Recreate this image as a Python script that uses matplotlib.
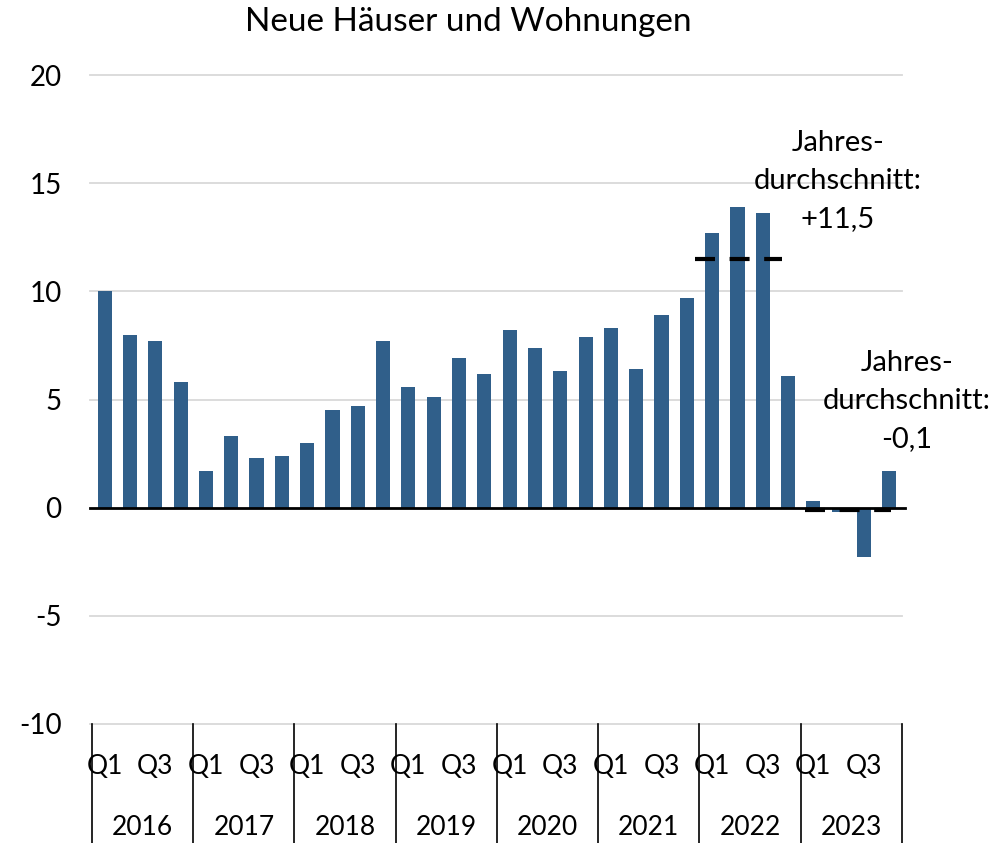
import matplotlib
matplotlib.use("Agg")
import matplotlib.pyplot as plt
import matplotlib.transforms as mtransforms

plt.rcParams['font.family'] = ['Lato', 'DejaVu Sans']

years = ["2016", "2017", "2018", "2019", "2020", "2021", "2022", "2023"]
quarter_labels = ["Q1", "", "Q3", ""]
values = [10.0, 8.0, 7.7, 5.8,
          1.7, 3.3, 2.3, 2.4,
          3.0, 4.5, 4.7, 7.7,
          5.6, 5.1, 6.9, 6.2,
          8.2, 7.4, 6.3, 7.9,
          8.3, 6.4, 8.9, 9.7,
          12.7, 13.9, 13.6, 6.1,
          0.3, -0.2, -2.3, 1.7]
# Jahresdurchschnitte
avg_years = [6, 7]
avg_values = [11.5, -0.1]
avg_labels = ["+11,5", "-0,1"]

barColor = "#305F8A"
fontSize = 19

fig = plt.figure(figsize=(9.95, 8.43), dpi=100)
ax = fig.add_axes([92/995, 1 - 724/843, 810/995, 649/843])

x = list(range(len(values)))
ax.bar(x, values, width=0.56, color=barColor, zorder=2)

ax.set_xlim(-0.5, len(values) - 0.5)
ax.set_ylim(-10, 20)
ax.set_yticks([-10, -5, 0, 5, 10, 15, 20])
ax.set_yticklabels(["-10", "-5", "0", "5", "10", "15", "20"], fontsize=20)
ax.tick_params(axis='y', length=0, pad=22)
ax.set_xticks([])
for s in ax.spines.values():
    s.set_visible(False)

# grid lines
for yv in [-10, -5, 5, 10, 15, 20]:
    ax.plot([-0.58, len(values) - 0.5], [yv, yv], color="#D9D9D9", lw=1.3, zorder=1, clip_on=False)
ax.plot([-0.58, len(values) - 0.38], [0, 0], color="black", lw=2, zorder=3, clip_on=False)

# dashed average lines (span in quarter units relative to year start)
spans = [(-0.68, 2.76), (-0.33, 3.07)]
for yi, avg, (a, b) in zip(avg_years, avg_values, spans):
    ax.plot([yi * 4 + a, yi * 4 + b], [avg, avg], color="black", lw=3, zorder=4,
            linestyle=(0, (4.8, 3.5)), solid_capstyle='butt', dash_capstyle='butt')

# quarter and year labels, separators
trans = mtransforms.blended_transform_factory(ax.transData, ax.transAxes)
for i, v in enumerate(values):
    q = quarter_labels[i % 4]
    if q:
        ax.text(i, -0.065, q, transform=trans, ha='center', va='center', fontsize=fontSize)
for k, yr in enumerate(years):
    ax.text(k * 4 + 1.5, -0.16, yr, transform=trans, ha='center', va='center', fontsize=fontSize)
for k in range(len(years) + 1):
    ax.plot([k * 4 - 0.5, k * 4 - 0.5], [0, -0.2], transform=trans, color="black",
            lw=1.2, clip_on=False)

# annotations
label_pos = [(28.97, 17.45), (31.7, 7.3)]
for (lx, ly), lab in zip(label_pos, avg_labels):
    ax.text(lx, ly, "Jahres-\ndurchschnitt:\n" + lab, ha='center', va='top',
            fontsize=21, linespacing=1.57)

fig.text(468/995, 1 - 22/843, "Neue Häuser und Wohnungen", ha='center', va='center',
         fontsize=24)

fig.savefig("out.png", dpi=100)
